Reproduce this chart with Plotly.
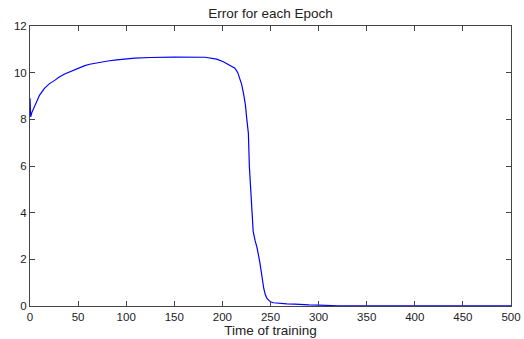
import plotly.graph_objects as go

epochs = [0, 0.7, 2, 5, 10, 15, 20, 26, 30, 36, 42, 47, 52, 57, 62, 68, 75, 81, 90, 99,
          109, 125, 150, 182, 190, 194, 201, 204, 209, 213, 216, 218, 220, 222, 224, 225,
          227, 228, 229, 230, 232, 234, 236, 239, 241.5, 243, 244.5, 246, 248, 250, 253,
          260, 267, 275, 281, 290, 300, 305, 310, 320, 350, 400, 450, 500]
error = [8.9, 8.11, 8.3, 8.6, 9.04, 9.33, 9.52, 9.68, 9.8, 9.94, 10.05, 10.14, 10.22, 10.3,
         10.36, 10.41, 10.46, 10.5, 10.55, 10.59, 10.62, 10.65, 10.67, 10.66, 10.6, 10.58,
         10.47, 10.4, 10.3, 10.19, 10.0, 9.75, 9.5, 9.1, 8.6, 8.15, 7.4, 6.0, 5.2, 4.2, 3.2,
         2.8, 2.5, 1.85, 1.1, 0.75, 0.5, 0.35, 0.25, 0.18, 0.14, 0.1, 0.09, 0.08, 0.06, 0.05,
         0.04, 0.03, 0.015, 0.01, 0.01, 0.01, 0.01, 0.01]

x_ticks = [0, 50, 100, 150, 200, 250, 300, 350, 400, 450, 500]
y_ticks = [0, 2, 4, 6, 8, 10, 12]

FONT = "Liberation Sans, Arial"

fig = go.Figure()
fig.add_trace(go.Scatter(x=epochs, y=error, mode="lines",
                         line=dict(color="#0000ff", width=1.2), showlegend=False))

axis_common = dict(showline=True, linecolor="#444444", linewidth=1, mirror="ticks",
                   ticks="inside", ticklen=5, tickcolor="#444444", showgrid=False,
                   zeroline=False, automargin=False,
                   tickfont=dict(family=FONT, size=11.5, color="#222222"))

fig.update_layout(
    width=524, height=339,
    margin=dict(l=30, r=13, t=26, b=33, autoexpand=False),
    paper_bgcolor="white", plot_bgcolor="white",
    title=dict(text="Error for each Epoch", x=0.5, xanchor="center", xref="paper",
               y=1 - 13.5 / 339, yanchor="middle",
               font=dict(family=FONT, size=13.5, color="#222222")),
    xaxis=dict(range=[0, 500], tickvals=x_ticks, ticktext=[str(v) for v in x_ticks],
               title=dict(text="Time of training", standoff=1,
                          font=dict(family=FONT, size=13.5, color="#222222")),
               **axis_common),
    yaxis=dict(range=[0, 12], tickvals=y_ticks, ticktext=[str(v) for v in y_ticks],
               **axis_common),
)

fig.write_html("out.html", config={"displayModeBar": False},
               post_script="document.body.style.margin='0px';")
